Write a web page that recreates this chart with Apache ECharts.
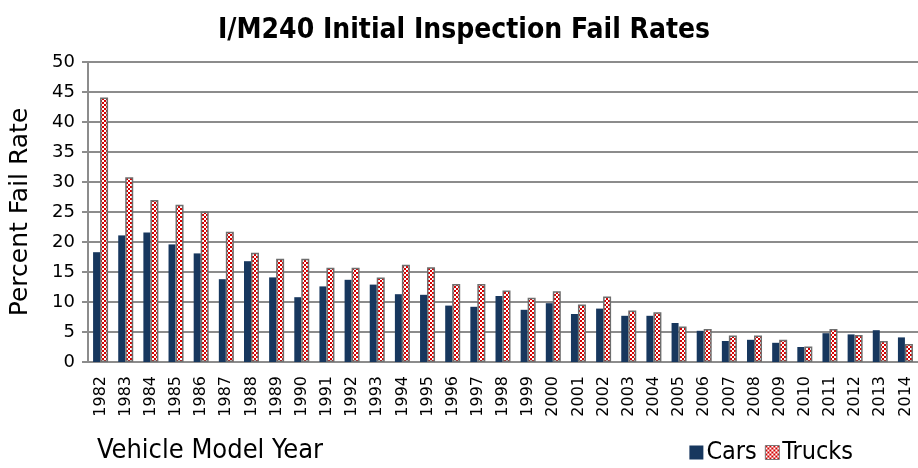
<!DOCTYPE html>
<html>
<head>
<meta charset="utf-8">
<script src="https://cdn.jsdelivr.net/npm/echarts@6/dist/echarts.min.js"></script>
<style>
  html, body { margin: 0; padding: 0; background: #fff; }
  #main { width: 918px; height: 468px; }
</style>
</head>
<body>
<div id="main"></div>
<script>
// model years
var years = ['1982','1983','1984','1985','1986','1987','1988','1989','1990','1991','1992',
  '1993','1994','1995','1996','1997','1998','1999','2000','2001','2002','2003',
  '2004','2005','2006','2007','2008','2009','2010','2011','2012','2013','2014'];

// percent fail rate
var cars = [18.3, 21.1, 21.6, 19.6, 18.1, 13.8, 16.8, 14.1, 10.8, 12.6, 13.7,
  12.9, 11.3, 11.2, 9.4, 9.2, 11.0, 8.7, 9.8, 8.0, 8.9, 7.7,
  7.7, 6.5, 5.2, 3.5, 3.7, 3.2, 2.5, 4.8, 4.6, 5.3, 4.1];
var trucks = [44.1, 30.8, 27.0, 26.2, 25.1, 21.7, 18.2, 17.2, 17.2, 15.7, 15.7,
  14.1, 16.2, 15.8, 13.0, 13.0, 11.9, 10.7, 11.8, 9.6, 10.9, 8.6,
  8.3, 5.9, 5.5, 4.4, 4.4, 3.7, 2.6, 5.5, 4.5, 3.5, 3.0];

var yTicks = [0, 50, 5]; // min, max, step

// checker pattern for trucks
var pat = document.createElement('canvas');
pat.width = 4; pat.height = 4;
var ctx = pat.getContext('2d');
ctx.fillStyle = '#ffffff';
ctx.fillRect(0, 0, 4, 4);
ctx.fillStyle = '#d40000';
ctx.fillRect(0, 0, 2, 2);
ctx.fillRect(2, 2, 2, 2);

var myChart = echarts.init(document.getElementById('main'));
var option = {
  animation: false,
  title: {
    text: 'I/M240 Initial Inspection Fail Rates',
    left: 459,
    textAlign: 'center',
    top: 12,
    textStyle: { fontFamily: 'DejaVu Sans Condensed', fontWeight: 'bold', fontSize: 28, color: '#000' }
  },
  legend: {
    right: 60,
    top: 435,
    itemWidth: 14,
    itemHeight: 14,
    itemGap: 8,
    textStyle: { fontFamily: 'DejaVu Sans Condensed', fontSize: 25, color: '#000', padding: [0, 0, 0, -2] },
    data: [
      { name: 'Cars', icon: 'rect' },
      { name: 'Trucks', icon: 'rect', itemStyle: { color: { image: pat, repeat: 'repeat' }, borderColor: '#777', borderWidth: 1 } }
    ]
  },
  graphic: [
    {
      type: 'text',
      left: 97,
      top: 437,
      style: { text: 'Vehicle Model Year', fontFamily: 'DejaVu Sans Condensed', fontSize: 27, fill: '#000' }
    }
  ],
  grid: {
    left: 86,
    top: 62,
    width: 838,
    height: 300
  },
  xAxis: {
    type: 'category',
    data: years,
    axisLine: { lineStyle: { color: '#8c8c8c', width: 2 } },
    axisTick: { show: false },
    axisLabel: { rotate: 90, interval: 0, color: '#000', fontFamily: 'DejaVu Sans', fontSize: 16, margin: 14 }
  },
  yAxis: {
    type: 'value',
    min: yTicks[0],
    max: yTicks[1],
    interval: yTicks[2],
    name: 'Percent Fail Rate',
    nameLocation: 'middle',
    nameGap: 55,
    nameTextStyle: { fontFamily: 'DejaVu Sans', fontSize: 25, color: '#000' },
    axisLine: { show: true, lineStyle: { color: '#8c8c8c', width: 2 } },
    axisTick: { show: true, length: 6, lineStyle: { color: '#8c8c8c', width: 2 } },
    axisLabel: { color: '#000', fontFamily: 'DejaVu Sans', fontSize: 18, margin: 13 },
    splitLine: { lineStyle: { color: '#8c8c8c', width: 2 } }
  },
  series: [
    {
      name: 'Cars',
      type: 'bar',
      data: cars,
      barWidth: 7,
      barGap: '0%',
      itemStyle: { color: '#17375e' }
    },
    {
      name: 'Trucks',
      type: 'bar',
      data: trucks,
      barWidth: 8,
      barGap: '0%',
      itemStyle: { color: { image: pat, repeat: 'repeat' }, borderColor: '#6e6e6e', borderWidth: 1.5 }
    }
  ]
};
myChart.setOption(option);
</script>
</body>
</html>
